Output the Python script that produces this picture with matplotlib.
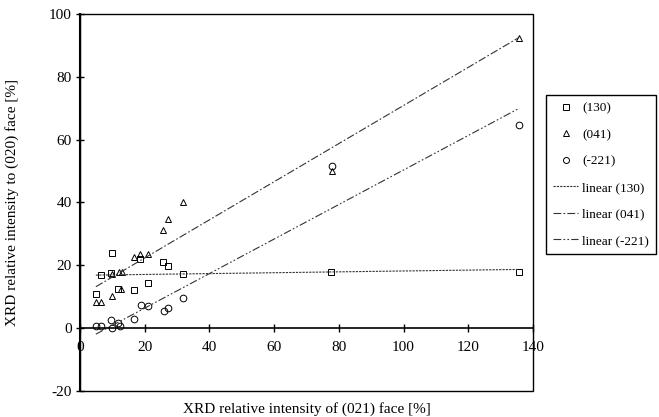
#!/usr/bin/python3
# -*- coding: utf-8 -*-

import matplotlib
matplotlib.use('Agg')
import matplotlib.pyplot as pl
import matplotlib.patches as patches
import numpy as np

# Relative intensities.
x_130 = [4.9, 6.5, 10.0, 9.5, 11.6, 16.8, 18.6, 21.1, 25.8, 27.2, 31.9, 77.7, 135.7]
y_130 = [10.9, 16.8, 24.0, 17.7, 12.4, 12.3, 21.9, 14.5, 20.9, 19.8, 17.2, 17.8, 17.9]

x_041 = [4.9, 6.5, 10.0, 9.8, 12.6, 12.0, 13.0, 16.8, 18.6, 21.0, 25.8, 27.2, 31.9,
         77.8, 135.7]
y_041 = [8.3, 8.3, 10.1, 17.3, 12.4, 17.9, 17.9, 22.6, 23.5, 23.5, 31.2, 34.7, 40.1,
         50.0, 92.4]

x_221 = [4.9, 6.5, 10.0, 9.5, 11.6, 12.5, 16.7, 18.7, 21.1, 25.9, 27.2, 31.9, 77.8, 135.7]
y_221 = [0.7, 0.6, 0.0, 2.5, 1.7, 0.7, 2.8, 7.3, 7.0, 5.5, 6.3, 9.6, 51.5, 64.6]

labels = ['(130)', '(041)', '(-221)']
x_ticks = [0, 20, 40, 60, 80, 100, 120, 140]
y_ticks = [-20, 0, 20, 40, 60, 80, 100]


def trend(ax, x, y, dashes, label):
    # Least squares line over the range of the data, like a spreadsheet trendline.
    slope, offset = np.polyfit(x, y, 1)
    xs = np.array([min(x), max(x)])
    ax.plot(xs, slope * xs + offset, color='#333333', lw=0.8,
            dashes=dashes, label=label)


def main():
    pl.rcParams['font.family'] = ['Liberation Serif', 'DejaVu Serif']
    pl.rcParams['axes.unicode_minus'] = False

    fig = pl.figure(figsize=(6.59, 4.17), dpi=100)
    ax = fig.add_axes([0.1214, 0.0624, 0.6874, 0.904])

    style = dict(ls='none', mfc='none', mec='black', mew=0.7)
    ax.plot(x_130, y_130, marker='s', ms=4.5, label=labels[0], **style)
    ax.plot(x_041, y_041, marker='^', ms=5, label=labels[1], **style)
    ax.plot(x_221, y_221, marker='o', ms=4.8, label=labels[2], **style)

    trend(ax, x_130, y_130, (2, 1), 'linear ' + labels[0])
    trend(ax, x_041, y_041, (7, 2, 1.5, 2), 'linear ' + labels[1])
    trend(ax, x_221, y_221, (7, 2, 1.5, 2, 1.5, 2), 'linear ' + labels[2])

    ax.set_xlim(0, 140)
    ax.set_ylim(-20, 100)
    ax.set_xticks(x_ticks)
    ax.set_yticks(y_ticks)

    # x axis crosses at y = 0, the plot area keeps its frame.
    for side in ['top', 'right']:
        ax.spines[side].set_visible(False)
    ax.spines['left'].set_linewidth(1.5)
    ax.spines['bottom'].set_position(('data', 0))
    ax.spines['bottom'].set_linewidth(1.2)
    ax.add_patch(patches.Rectangle((0, 0), 1, 1, transform=ax.transAxes,
                                   fill=False, lw=1.0, ec='black', clip_on=False))
    ax.tick_params(direction='inout', length=6, width=1, labelsize=11, pad=3)
    ax.tick_params(axis='x', pad=6)

    ax.set_xlabel('XRD relative intensity of (021) face [%]', fontsize=11)
    ax.xaxis.set_label_coords(0.5, -0.03)
    ax.set_ylabel('XRD relative intensity to (020) face [%]', fontsize=11)
    ax.yaxis.set_label_coords(-0.135, 0.5)

    leg = ax.legend(loc='upper left', bbox_to_anchor=(0.8285, 0.772),
                    bbox_transform=fig.transFigure, borderaxespad=0,
                    fontsize=9.5, labelspacing=1.08, handlelength=1.9,
                    handletextpad=0.3, borderpad=0.55, fancybox=False,
                    edgecolor='black', framealpha=1, markerscale=0.9)
    leg.get_frame().set_linewidth(1.0)

    fig.savefig('out.png', dpi=100)


if __name__ == '__main__':
    main()
